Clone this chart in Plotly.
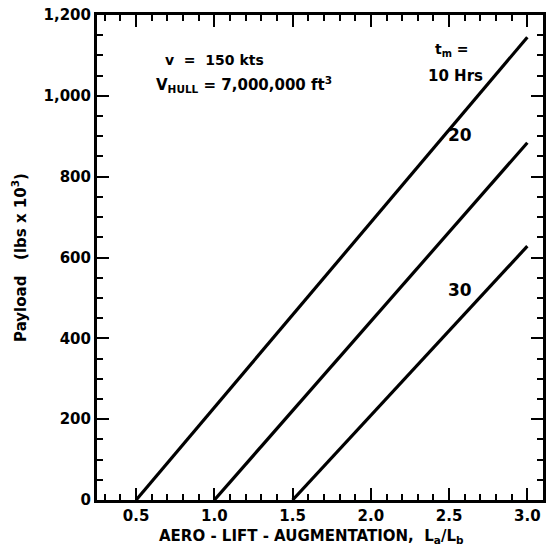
import plotly.graph_objects as go

# Data
series_names = ["10", "20", "30"]
x_start = [0.5, 1.0, 1.5]
x_end = [3.0, 3.0, 3.0]
y_start = [0, 0, 0]
y_end = [1145, 884, 628]

x_tickvals = [0.5, 1.0, 1.5, 2.0, 2.5, 3.0]
x_ticktext = ["0.5", "1.0", "1.5", "2.0", "2.5", "3.0"]
y_tickvals = [0, 200, 400, 600, 800, 1000, 1200]
y_ticktext = ["0", "200", "400", "600", "800", "1,000", "1,200"]

FONT = "DejaVu Sans"

fig = go.Figure()
for name, x0, x1, y0, y1 in zip(series_names, x_start, x_end, y_start, y_end):
    fig.add_trace(go.Scatter(x=[x0, x1], y=[y0, y1], mode="lines",
                             line=dict(color="black", width=3.2),
                             name=name, showlegend=False))

def ann(x, y, text, size=15, xanchor="center"):
    fig.add_annotation(x=x, y=y, xref="x", yref="y", text=text, showarrow=False,
                       xanchor=xanchor, yanchor="middle",
                       font=dict(family=FONT, size=size, color="black"))

ann(1.0, 1089, "<b>v  =  150 kts</b>", size=14)
ann(1.19, 1027, "<b>V<sub>HULL</sub> = 7,000,000 ft<sup>3</sup></b>", size=15)
ann(2.52, 1113, "<b>t<sub>m</sub> =</b>", size=14)
ann(2.54, 1049, "<b>10 Hrs</b>", size=15)
ann(2.57, 903, "<b>20</b>", size=17)
ann(2.57, 520, "<b>30</b>", size=17)

# x-axis title placed as a paper annotation (slightly left of plot centre, as in the original)
fig.add_annotation(x=0.48, y=-0.075, xref="paper", yref="paper",
                   text="<b>AERO - LIFT - AUGMENTATION,  L<sub>a</sub>/L<sub>b</sub></b>",
                   showarrow=False, xanchor="center", yanchor="middle",
                   font=dict(family=FONT, size=15, color="black"))

fig.update_layout(
    width=548, height=552,
    margin=dict(l=97, r=2, t=15, b=52),
    plot_bgcolor="white", paper_bgcolor="white",
    font=dict(family=FONT, size=15, color="black"),
    xaxis=dict(range=[0.25, 3.1], tickvals=x_tickvals,
               ticktext=["<b>%s</b>" % t for t in x_ticktext],
               showgrid=False, zeroline=False, showline=True, linecolor="black",
               linewidth=3, mirror="allticks", ticks="inside", ticklen=12,
               tickwidth=2, tickcolor="black",
               minor=dict(dtick=0.1, tick0=0.0, ticks="inside", ticklen=6,
                          tickwidth=2, tickcolor="black", showgrid=False),
               tickfont=dict(size=15)),
    yaxis=dict(range=[0, 1200], tickvals=y_tickvals,
               ticktext=["<b>%s</b>" % t for t in y_ticktext],
               showgrid=False, zeroline=False, showline=True, linecolor="black",
               linewidth=3, mirror="allticks", ticks="inside", ticklen=12,
               tickwidth=2, tickcolor="black",
               minor=dict(dtick=50, ticks="inside", ticklen=6,
                          tickwidth=2, tickcolor="black", showgrid=False),
               tickfont=dict(size=15),
               title=dict(text="<b>Payload   (lbs x 10<sup>3</sup>)</b>",
                          font=dict(size=15), standoff=14)),
)

fig.write_html("out.html")
